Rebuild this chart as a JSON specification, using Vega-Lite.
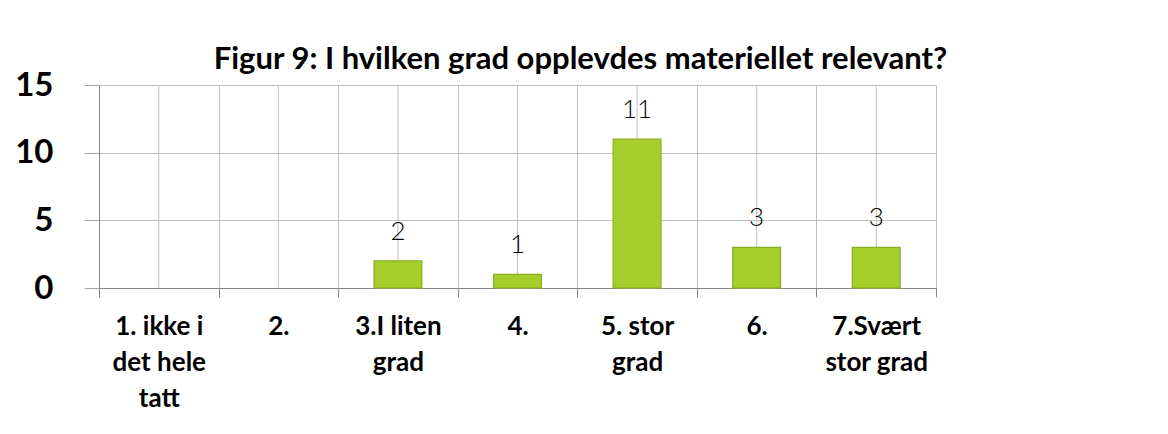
{
  "$schema": "https://vega.github.io/schema/vega-lite/v6.json",
  "autosize": "none",
  "width": 837,
  "height": 203,
  "padding": {"left": 99, "top": 85, "right": 232, "bottom": 146},
  "background": "white",
  "title": {
    "text": "Figur 9: I hvilken grad opplevdes materiellet relevant?",
    "font": "Lato",
    "fontSize": 31,
    "fontWeight": "bold",
    "color": "#000000",
    "anchor": "middle",
    "dx": 63,
    "dy": 10,
    "offset": 3
  },
  "data": {
    "values": [
      {"kategori": "1. ikke i det hele tatt", "antall": 0},
      {"kategori": "2.", "antall": 0},
      {"kategori": "3.I liten grad", "antall": 2},
      {"kategori": "4.", "antall": 1},
      {"kategori": "5. stor grad", "antall": 11},
      {"kategori": "6.", "antall": 3},
      {"kategori": "7.Svært stor grad", "antall": 3}
    ]
  },
  "config": {
    "view": {"stroke": "#BFBFBF", "strokeWidth": 1},
    "font": "Lato"
  },
  "encoding": {
    "x": {
      "field": "kategori",
      "type": "nominal",
      "sort": null,
      "scale": {
        "domain": ["1. ikke i det hele tatt", "2.", "3.I liten grad", "4.", "5. stor grad", "6.", "7.Svært stor grad"],
        "paddingInner": 0,
        "paddingOuter": 0
      },
      "axis": {
        "title": null,
        "labelAngle": 0,
        "labelFont": "Lato",
        "labelFontSize": 26,
        "labelFontWeight": "bold",
        "labelColor": "#000000",
        "labelLineHeight": 36,
        "labelPadding": 16,
        "labelLimit": 0,
        "labelExpr": "datum.value == '1. ikke i det hele tatt' ? ['1. ikke i', 'det hele', 'tatt'] : datum.value == '3.I liten grad' ? ['3.I liten', 'grad'] : datum.value == '5. stor grad' ? ['5. stor', 'grad'] : datum.value == '7.Svært stor grad' ? ['7.Svært', 'stor grad'] : datum.value",
        "tickBand": "extent",
        "tickSize": 9,
        "tickColor": "#868686",
        "domainColor": "#868686",
        "grid": true,
        "gridColor": "#BFBFBF"
      }
    }
  },
  "layer": [
    {
      "mark": {"type": "rule", "color": "#BFBFBF", "strokeWidth": 1},
      "encoding": {}
    },
    {
      "transform": [{"filter": "datum.antall > 0"}],
      "mark": {"type": "bar", "color": "#A6CE2B", "stroke": "#89AD22", "strokeWidth": 1.2, "width": {"band": 0.4}},
      "encoding": {
        "y": {
          "field": "antall",
          "type": "quantitative",
          "scale": {"domain": [0, 15], "nice": false},
          "axis": {
            "title": null,
            "values": [0, 5, 10, 15],
            "labelFont": "Lato",
            "labelFontSize": 33,
            "labelFontWeight": "bold",
            "labelColor": "#000000",
            "labelPadding": 31,
            "tickSize": 15,
            "tickColor": "#A6A6A6",
            "domainColor": "#868686",
            "grid": true,
            "gridColor": "#BFBFBF"
          }
        }
      }
    },
    {
      "transform": [{"filter": "datum.antall > 0"}],
      "mark": {"type": "text", "font": "Lato", "fontSize": 26, "fontWeight": 300, "color": "#000000", "baseline": "alphabetic", "dy": -21},
      "encoding": {
        "y": {"field": "antall", "type": "quantitative"},
        "text": {"field": "antall", "type": "quantitative"}
      }
    }
  ]
}
